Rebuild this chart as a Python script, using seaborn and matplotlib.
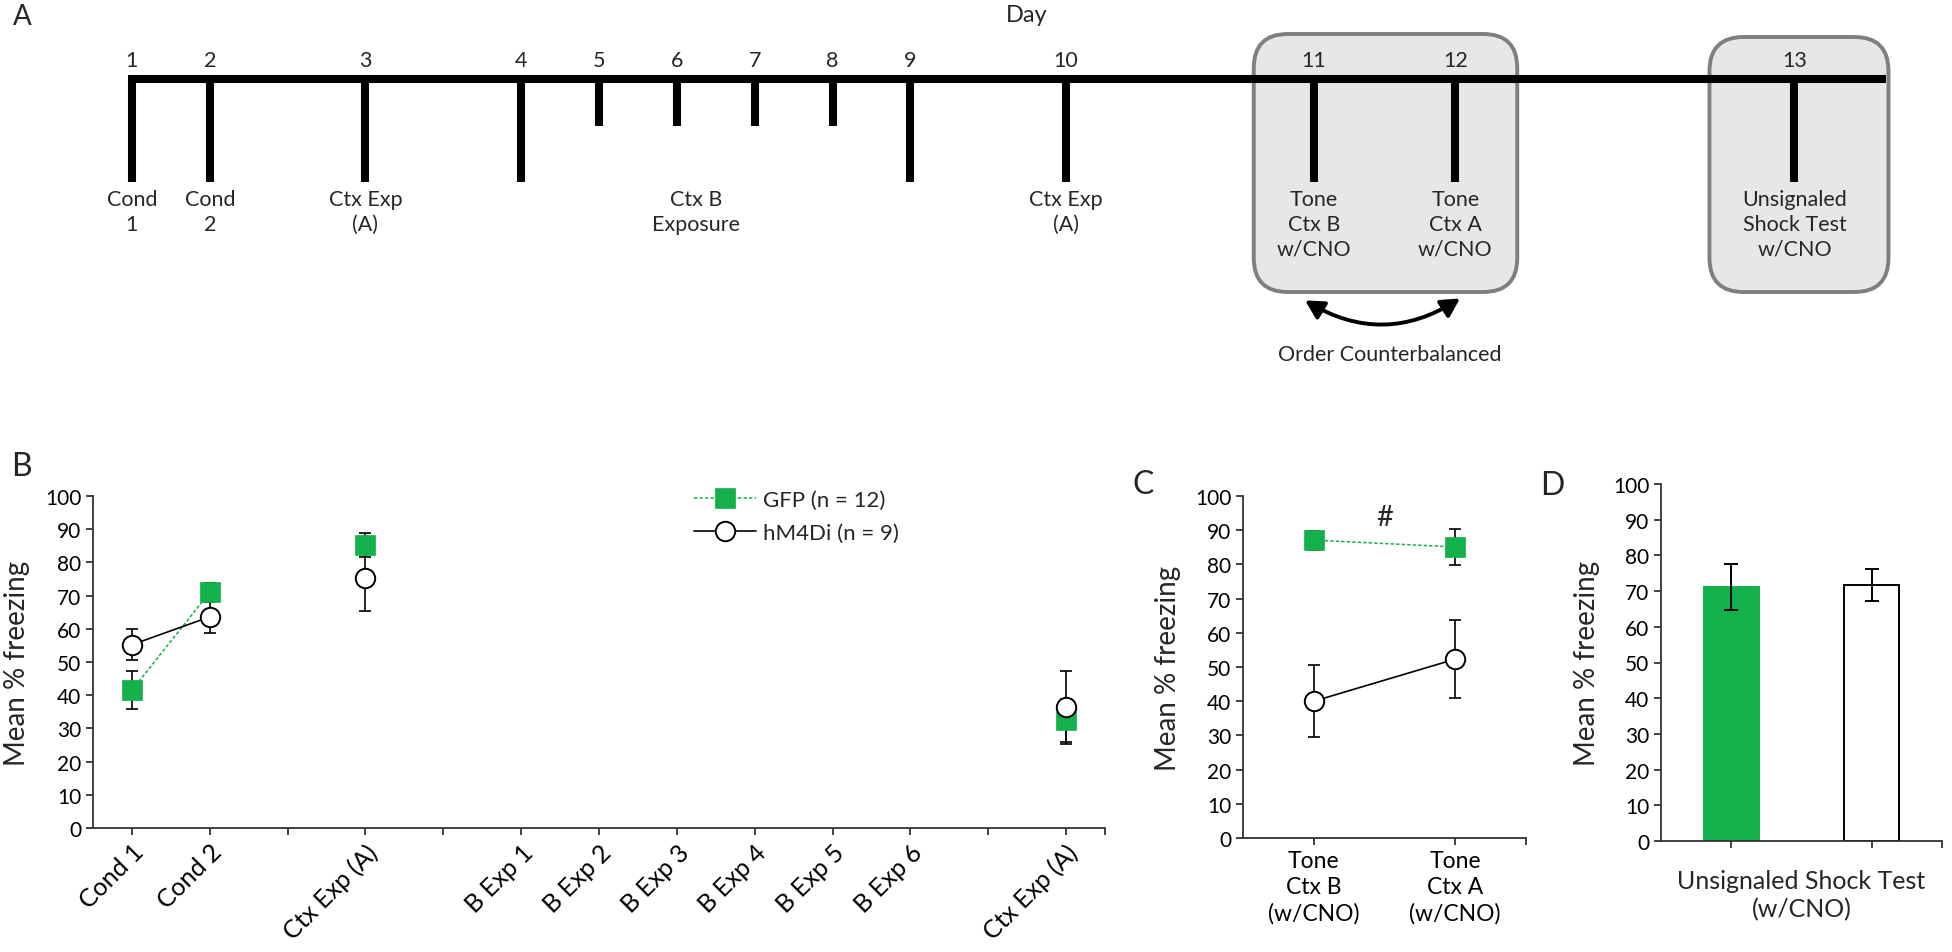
"""
Fear renewal figure: timeline (A), per-session freezing (B),
tone tests (C) and unsignaled shock test (D).
"""

import matplotlib
matplotlib.use("Agg")
import matplotlib.pyplot as plt
from matplotlib.lines import Line2D
from matplotlib.patches import FancyBboxPatch, FancyArrowPatch
import pandas as pd
import seaborn as sns

# ── data ─────────────────────────────────────────────────────────────────────

GROUPS = ["GFP", "hM4Di"]
LEGEND_LABELS = ["GFP (n = 12)", "hM4Di (n = 9)"]

# panel B: 13 category slots on the x axis, blanks are empty slots
B_LABELS = ["Cond 1", "Cond 2", "", "Ctx Exp (A)", "", "B Exp 1", "B Exp 2",
            "B Exp 3", "B Exp 4", "B Exp 5", "B Exp 6", "", "Ctx Exp (A)"]
B_SLOTS = [0, 1, 3, 12]          # slots that carry data
B_SEGMENTS = [0, 0, 1, 2]        # points joined by a line share a segment
GFP_B = [41.5, 71.0, 85.3, 32.5]
GFP_B_SEM = [5.8, 2.8, 3.7, 6.5]
HM_B = [55.2, 63.6, 75.4, 36.3]
HM_B_SEM = [4.7, 5.0, 10.0, 11.0]

# panel C
C_LABELS = ["Tone\nCtx B\n(w/CNO)", "Tone\nCtx A\n(w/CNO)"]
GFP_C = [87.1, 85.1]
GFP_C_SEM = [2.8, 5.2]
HM_C = [40.0, 52.3]
HM_C_SEM = [10.6, 11.4]
C_MARK = "#"
C_MARK_Y = 94

# panel D
D_MEAN = [71.2, 71.7]
D_SEM = [6.5, 4.5]
D_XLABEL = "Unsignaled Shock Test\n(w/CNO)"

YLABEL = "Mean % freezing"
YTICKS = list(range(0, 101, 10))

# panel A timeline
DAYS = list(range(1, 14))
SHORT_DAYS = [5, 6, 7, 8]
DAY_TEXT = ["Cond\n1", "Cond\n2", "Ctx Exp\n(A)", "", "", "", "", "", "",
            "Ctx Exp\n(A)", "Tone\nCtx B\nw/CNO", "Tone\nCtx A\nw/CNO",
            "Unsignaled\nShock Test\nw/CNO"]
B_PHASE_TEXT = "Ctx B\nExposure"
ORDER_TEXT = "Order Counterbalanced"

# ── style ────────────────────────────────────────────────────────────────────

GREEN = "#13b04b"
AXIS = "#333333"
W, H = 1952, 953
TL_FONT = 15.5

sns.set_style("ticks")
plt.rcParams["font.family"] = ["Lato", "DejaVu Sans"]
plt.rcParams.update({
    "axes.edgecolor": AXIS,
    "axes.linewidth": 1.3,
    "xtick.color": AXIS,
    "ytick.color": AXIS,
    "xtick.labelcolor": "black",
    "ytick.labelcolor": "black",
    "xtick.major.size": 5,
    "ytick.major.size": 5,
    "xtick.major.width": 1.3,
    "ytick.major.width": 1.3,
    "xtick.minor.size": 5,
    "xtick.minor.width": 1.3,
    "ytick.labelsize": 15,
})

GFP_STYLE = dict(color=GREEN, linestyle=(0, (2.2, 1.4)), linewidth=1.1,
                 marker="s", markersize=14, markerfacecolor=GREEN,
                 markeredgecolor=GREEN, markeredgewidth=0.5, zorder=3)
HM_STYLE = dict(color="black", linestyle="-", linewidth=1.2,
                marker="o", markersize=14, markerfacecolor="white",
                markeredgecolor="black", markeredgewidth=1.4, zorder=4)


def frac(left, top, right, bottom):
    """pixel box -> add_axes rect"""
    return [left / W, 1 - bottom / H, (right - left) / W, (bottom - top) / H]


def draw_series(ax, xs, mean, sem, segs, style):
    ax.errorbar(xs, mean, yerr=sem, fmt="none", ecolor="black",
                elinewidth=1.2, capsize=4, capthick=1.2, zorder=2)
    df = pd.DataFrame({"x": xs, "y": mean, "seg": segs})
    sns.lineplot(data=df, x="x", y="y", units="seg", estimator=None,
                 ax=ax, legend=False, **style)


def style_axis(ax, xmax, label_x):
    sns.despine(ax=ax)
    ax.set_ylim(0, 100)
    ax.set_yticks(YTICKS)
    ax.set_ylabel(YLABEL, fontsize=20)
    ax.yaxis.set_label_coords(label_x, 0.5)
    ax.set_xticks([xmax], minor=True)
    ax.set_xlabel("")


fig = plt.figure(figsize=(W / 100, H / 100), dpi=100)

# ── B ────────────────────────────────────────────────────────────────────────
ax_b = fig.add_axes(frac(93, 497, 1105, 829))
draw_series(ax_b, B_SLOTS, GFP_B, GFP_B_SEM, B_SEGMENTS, GFP_STYLE)
draw_series(ax_b, B_SLOTS, HM_B, HM_B_SEM, B_SEGMENTS, HM_STYLE)
ax_b.set_xlim(-0.5, len(B_LABELS) - 0.5)
ax_b.set_xticks(range(len(B_LABELS)))
ax_b.set_xticklabels(B_LABELS, rotation=45, ha="right", va="top",
                     rotation_mode="anchor", fontsize=18)
style_axis(ax_b, len(B_LABELS) - 0.5, -0.062)

handles = [
    Line2D([], [], **{k: v for k, v in GFP_STYLE.items() if k != "zorder"}),
    Line2D([], [], **{k: v for k, v in HM_STYLE.items() if k != "zorder"}),
]
ax_b.legend(handles, LEGEND_LABELS, loc="upper left",
            bbox_to_anchor=(0.594, 1.02), frameon=False, fontsize=16,
            handlelength=2.8, handletextpad=0.3, labelspacing=0.6,
            borderpad=0, borderaxespad=0, numpoints=1)

# ── C ────────────────────────────────────────────────────────────────────────
ax_c = fig.add_axes(frac(1243, 497, 1526, 839))
draw_series(ax_c, [0, 1], GFP_C, GFP_C_SEM, [0, 0], GFP_STYLE)
draw_series(ax_c, [0, 1], HM_C, HM_C_SEM, [0, 0], HM_STYLE)
ax_c.set_xlim(-0.5, 1.5)
ax_c.set_xticks([0, 1])
ax_c.set_xticklabels(C_LABELS, fontsize=16.5, linespacing=1.3)
ax_c.text(0.5, C_MARK_Y, C_MARK, ha="center", va="center", fontsize=21)
style_axis(ax_c, 1.5, -0.219)

# ── D ────────────────────────────────────────────────────────────────────────
ax_d = fig.add_axes(frac(1661, 485, 1942, 842))
df_d = pd.DataFrame({"group": GROUPS, "mean": D_MEAN, "sem": D_SEM})
sns.barplot(data=df_d, x="group", y="mean", hue="group",
            palette={"GFP": GREEN, "hM4Di": "white"}, width=0.39,
            saturation=1, legend=False, ax=ax_d, zorder=2)
for patch, edge in zip(ax_d.patches, [GREEN, "black"]):
    patch.set_edgecolor(edge)
    patch.set_linewidth(1.4)
ax_d.errorbar(range(len(GROUPS)), D_MEAN, yerr=D_SEM, fmt="none",
              ecolor="black", elinewidth=1.4, capsize=5, capthick=1.4,
              zorder=3)
ax_d.set_xlim(-0.5, 1.5)
ax_d.set_xticklabels([])
style_axis(ax_d, 1.5, -0.217)
ax_d.set_xlabel(D_XLABEL, fontsize=18, linespacing=1.25, labelpad=12)

# ── panel letters ────────────────────────────────────────────────────────────
for letter, (px, py), size in [("A", (22, 17), 20), ("B", (21, 467), 23),
                               ("C", (1143, 485), 23), ("D", (1552, 486), 23)]:
    fig.text(px / W, 1 - py / H, letter, ha="center", va="center",
             fontsize=size)

# ── A: timeline, in figure pixels ───────────────────────────────────────────
ax_a = fig.add_axes([0, 0, 1, 1], zorder=-1)
ax_a.set_xlim(0, W)
ax_a.set_ylim(H, 0)
ax_a.axis("off")


def px(ax, xval):
    return ax.transData.transform((xval, 0))[0]


day_anchor = [(ax_b, 0), (ax_b, 1), (ax_b, 3), (ax_b, 5), (ax_b, 6),
              (ax_b, 7), (ax_b, 8), (ax_b, 9), (ax_b, 10), (ax_b, 12),
              (ax_c, 0), (ax_c, 1), (ax_d, 0.45)]
day_x = [px(a, v) for a, v in day_anchor]

line_y, long_end, short_end = 80, 183, 127
lw = 5.8

# grey boxes round the CNO test days
for x0, x1, top in [(day_x[10] - 60, day_x[11] + 62, 35),
                    (day_x[12] - 85, day_x[12] + 94, 38)]:
    ax_a.add_patch(FancyBboxPatch(
        (x0, top), x1 - x0, 293 - top,
        boxstyle="round,pad=0,rounding_size=34",
        facecolor="#e7e7e7", edgecolor="#7f7f7f", linewidth=2.8, zorder=1))

ax_a.plot([day_x[0] - 4, 1886], [line_y, line_y], color="black", lw=lw,
          solid_capstyle="butt", zorder=3)
for d, x, txt in zip(DAYS, day_x, DAY_TEXT):
    end = short_end if d in SHORT_DAYS else long_end
    ax_a.plot([x, x], [line_y, end], color="black", lw=lw,
              solid_capstyle="butt", zorder=3)
    ax_a.text(x, 61, str(d), ha="center", va="center", fontsize=TL_FONT)
    if txt:
        ax_a.text(x, 190, txt, ha="center", va="top", fontsize=TL_FONT,
                  linespacing=1.3)

ax_a.text(px(ax_b, 7.25), 190, B_PHASE_TEXT, ha="center", va="top",
          fontsize=TL_FONT, linespacing=1.3)
ax_a.text(px(ax_b, 11.5), 15, "Day", ha="center", va="center", fontsize=17)

ax_a.add_patch(FancyArrowPatch(
    (day_x[10] - 11, 300), (day_x[11] + 7, 298),
    arrowstyle="<|-|>,head_length=0.55,head_width=0.3",
    connectionstyle="arc3,rad=0.32", mutation_scale=20,
    color="black", lw=2.8, zorder=3))
ax_a.text((day_x[10] + day_x[11]) / 2 + 5, 355, ORDER_TEXT,
          ha="center", va="center", fontsize=TL_FONT)

fig.savefig("out.png", dpi=100)
plt.close(fig)
